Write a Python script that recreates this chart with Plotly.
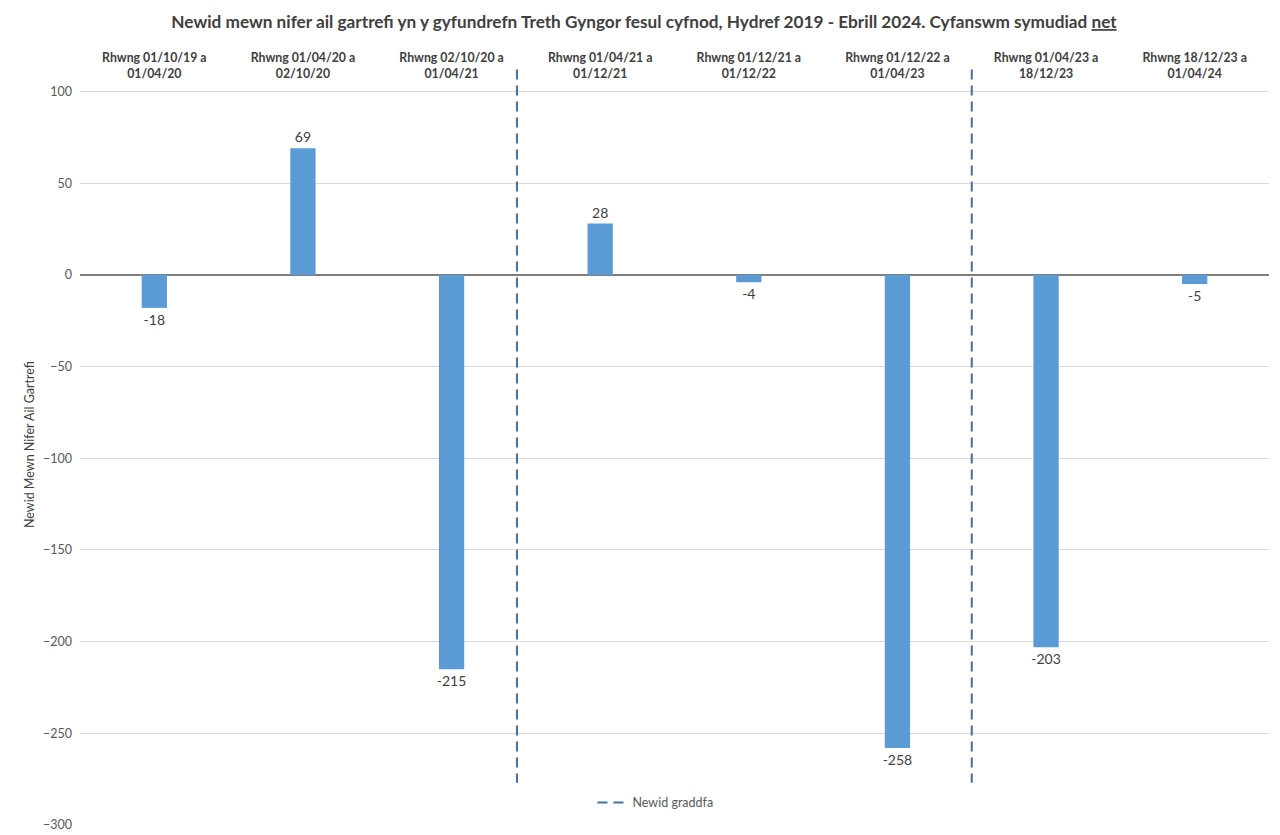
import plotly.graph_objects as go

categories = [
    "Rhwng 01/10/19 a<br>01/04/20",
    "Rhwng 01/04/20 a<br>02/10/20",
    "Rhwng 02/10/20 a<br>01/04/21",
    "Rhwng 01/04/21 a<br>01/12/21",
    "Rhwng 01/12/21 a<br>01/12/22",
    "Rhwng 01/12/22 a<br>01/04/23",
    "Rhwng 01/04/23 a<br>18/12/23",
    "Rhwng 18/12/23 a<br>01/04/24",
]
values = [-18, 69, -215, 28, -4, -258, -203, -5]
positions = list(range(len(categories)))

# scale-change markers (between periods), and their vertical extent
break_x = [2.44, 5.5]
break_y = [112, -277]

y_ticks = [100, 50, 0, -50, -100, -150, -200, -250, -300]

FONT = "Lato"

fig = go.Figure()
fig.add_trace(go.Bar(
    x=positions, y=values, width=0.17,
    marker=dict(color="#5B9BD5", line=dict(width=0)),
    text=[str(v) for v in values], textposition="outside",
    textfont=dict(family=FONT, size=14, color="#404040"),
    constraintext="none",
    cliponaxis=False, showlegend=False,
))

lx, ly = [], []
for bx in break_x:
    lx += [bx, bx, None]
    ly += [break_y[0], break_y[1], None]
fig.add_trace(go.Scatter(
    x=lx, y=ly, mode="lines", name="Newid graddfa",
    line=dict(color="#41719C", width=2, dash="10px,6px"),
    showlegend=True,
))

fig.update_layout(
    width=1272, height=827,
    margin=dict(l=72, r=11, t=56, b=10),
    paper_bgcolor="white", plot_bgcolor="white",
    font=dict(family=FONT, color="#595959"),
    title=dict(
        text="<b>Newid mewn nifer ail gartrefi yn y gyfundrefn Treth Gyngor fesul cyfnod, Hydref 2019 - Ebrill 2024. Cyfanswm symudiad <u>net</u></b>",
        x=0.5, xanchor="center", y=0.983, yanchor="middle",
        font=dict(family=FONT, size=17.2, color="#404040"),
    ),
    xaxis=dict(
        range=[-0.5, 7.5], side="top", automargin=False,
        anchor="free", position=0.979,
        tickmode="array", tickvals=positions, ticktext=[f"<b>{c}</b>" for c in categories],
        tickfont=dict(family=FONT, size=12.3, color="#404040"),
        showgrid=False, zeroline=False, showline=False, ticks="",
    ),
    yaxis=dict(
        range=[-300, 115], tickmode="array", tickvals=y_ticks, automargin=False,
        tickfont=dict(family=FONT, size=12.5, color="#595959"),
        showgrid=True, gridcolor="#D9D9D9", gridwidth=1,
        zeroline=True, zerolinecolor="#7F7F7F", zerolinewidth=1.5,
        showline=False, ticks="", ticklabelstandoff=7,
        title=dict(text="Newid Mewn Nifer Ail Gartrefi", standoff=5,
                   font=dict(family=FONT, size=12.5, color="#404040")),
    ),
    legend=dict(
        x=0.484, y=0.029, xanchor="center", yanchor="middle",
        orientation="h", bgcolor="rgba(0,0,0,0)",
        font=dict(family=FONT, size=12.5, color="#595959"),
    ),
)

fig.write_html("out.html")
